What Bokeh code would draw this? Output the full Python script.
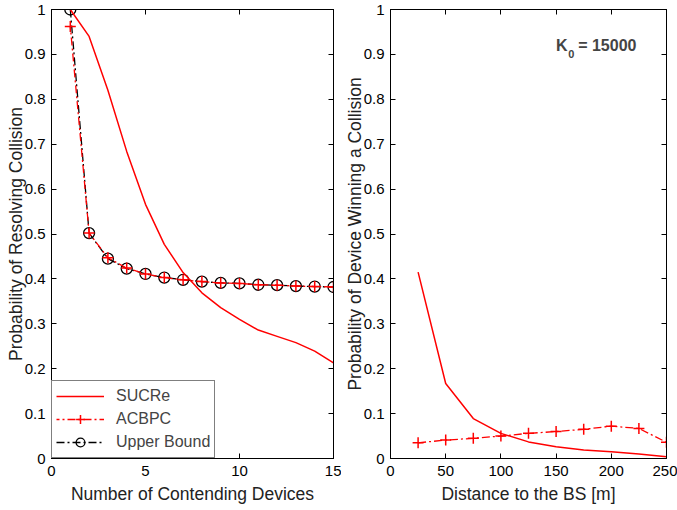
from bokeh.plotting import figure
from bokeh.models import (LinearAxis, FixedTicker, CustomJSTickFormatter, Range1d,
                          Legend, LegendItem, Label)
from bokeh.layouts import row
from bokeh.embed import file_html
from bokeh.resources import INLINE

# ---------------- data ----------------
devices = [1, 2, 3, 4, 5, 6, 7, 8, 9, 10, 11, 12, 13, 14, 15]
sucre_a = [1.0, 0.94, 0.82, 0.684, 0.566, 0.477, 0.414, 0.369, 0.336, 0.31,
           0.286, 0.272, 0.258, 0.239, 0.213]
acbpc_a = [0.962, 0.502, 0.447, 0.424, 0.411, 0.403, 0.398, 0.394, 0.391, 0.390,
           0.387, 0.386, 0.384, 0.383, 0.382]
upper_a = [1.0, 0.502, 0.445, 0.423, 0.411, 0.403, 0.398, 0.394, 0.391, 0.390,
           0.387, 0.386, 0.384, 0.383, 0.382]

distance = [25, 50, 75, 100, 125, 150, 175, 200, 225, 250]
sucre_b = [0.415, 0.167, 0.089, 0.056, 0.037, 0.026, 0.019, 0.015, 0.010, 0.004]
acbpc_b = [0.035, 0.041, 0.045, 0.050, 0.056, 0.060, 0.065, 0.072, 0.067, 0.036]

y_ticks = [0, 0.1, 0.2, 0.3, 0.4, 0.5, 0.6, 0.7, 0.8, 0.9, 1.0]
x_ticks_a = [0, 5, 10, 15]
x_ticks_b = [0, 50, 100, 150, 200, 250]

FONT = "Liberation Sans"
TICK_FS = "15px"
LABEL_FS = "17.5px"


def style_axis(ax, ticks, label_standoff, title_standoff):
    ax.ticker = FixedTicker(ticks=ticks)
    ax.major_tick_in = 5
    ax.major_tick_out = 0
    ax.minor_tick_line_color = None
    ax.axis_line_color = "black"
    ax.major_tick_line_color = "black"
    ax.major_label_text_font = FONT
    ax.major_label_text_font_size = TICK_FS
    ax.major_label_text_color = "black"
    ax.major_label_standoff = label_standoff
    ax.axis_label_text_font = FONT
    ax.axis_label_text_font_size = LABEL_FS
    ax.axis_label_text_font_style = "normal"
    ax.axis_label_text_color = "#222222"
    ax.axis_label_standoff = title_standoff


def blank_axis(ticks):
    ax = LinearAxis(ticker=FixedTicker(ticks=ticks),
                    formatter=CustomJSTickFormatter(code="return '';"))
    ax.major_tick_in = 5
    ax.major_tick_out = 0
    ax.minor_tick_line_color = None
    ax.axis_line_color = "black"
    ax.major_label_text_font_size = "0px"
    ax.major_label_standoff = 0
    return ax


def make_fig(width, xr, xticks, xlabel, ylabel, mbl, mbr, ylab_standoff):
    p = figure(width=width, height=510, x_range=Range1d(*xr), y_range=Range1d(0, 1),
               output_backend="svg", toolbar_location=None,
               min_border_left=mbl, min_border_right=mbr,
               min_border_top=9, min_border_bottom=52)
    p.grid.visible = False
    p.outline_line_color = "black"
    p.outline_line_alpha = 1.0
    p.background_fill_color = "white"
    p.border_fill_color = "white"
    p.xaxis.axis_label = xlabel
    p.yaxis.axis_label = ylabel
    style_axis(p.xaxis[0], xticks, 7, 5)
    style_axis(p.yaxis[0], y_ticks, 6, ylab_standoff)
    p.yaxis[0].formatter = CustomJSTickFormatter(
        code="return (Math.round(tick*10)/10).toString();")
    p.add_layout(blank_axis(xticks), "above")
    p.add_layout(blank_axis(y_ticks), "right")
    return p


# ---------------- panel a ----------------
pa = make_fig(341, (0, 15), x_ticks_a, "Number of Contending Devices",
              "Probability of Resolving Collision", 51, 8, -4)

ub_line = pa.line(devices, upper_a, line_color="black", line_width=1.3,
                  line_dash="8 3 2 3")
ub_mk = pa.scatter(devices, upper_a, marker="circle", size=11,
                   fill_color=None, line_color="black", line_width=1.3)
ac_line = pa.line(devices, acbpc_a, line_color="red", line_width=1.3,
                  line_dash="8 3 2 3", line_dash_offset=5)
ac_mk = pa.scatter(devices, acbpc_a, marker="cross", size=11,
                   line_color="red", line_width=1.5)
su_line = pa.line(devices, sucre_a, line_color="red", line_width=1.5)

legend = Legend(items=[
    LegendItem(label="SUCRe", renderers=[su_line]),
    LegendItem(label="ACBPC", renderers=[ac_line, ac_mk]),
    LegendItem(label="Upper Bound", renderers=[ub_line, ub_mk]),
], location="bottom_left", margin=0, padding=4, spacing=1,
    glyph_width=48, glyph_height=22, label_height=22, label_standoff=12,
    label_text_font=FONT, label_text_font_size="16px",
    border_line_color="black", border_line_width=1,
    background_fill_color="white", background_fill_alpha=1.0)
pa.add_layout(legend)

pa.add_layout(Label(x=-2.07, y=0.97, text="a)", text_font=FONT,
                    text_font_size="17px", text_baseline="middle",
                    text_align="left", text_color="black"))

# ---------------- panel b ----------------
pb = make_fig(336, (0, 250), x_ticks_b, "Distance to the BS [m]",
              "Probability of Device Winning a Collision", 48, 11, -4)

pb.line(distance, sucre_b, line_color="red", line_width=1.5)
pb.line(distance, acbpc_b, line_color="red", line_width=1.3, line_dash="8 3 2 3")
pb.scatter(distance, acbpc_b, marker="cross", size=11, line_color="red",
           line_width=1.5)

pb.add_layout(Label(x=-36, y=0.961, text="b)", text_font=FONT,
                    text_font_size="17px", text_baseline="middle",
                    text_align="left", text_color="black"))
pb.add_layout(Label(x=149.8, y=0.92, text="K", text_font=FONT,
                    text_font_size="16px", text_font_style="bold",
                    text_baseline="alphabetic", text_align="left"))
pb.add_layout(Label(x=161, y=0.90, text="0", text_font=FONT,
                    text_font_size="11px", text_font_style="bold",
                    text_baseline="alphabetic", text_align="left"))
pb.add_layout(Label(x=170, y=0.92, text="= 15000", text_font=FONT,
                    text_font_size="16px", text_font_style="bold",
                    text_baseline="alphabetic", text_align="left"))

layout = row(pa, pb)
open("out.html", "w").write(file_html(layout, INLINE))
